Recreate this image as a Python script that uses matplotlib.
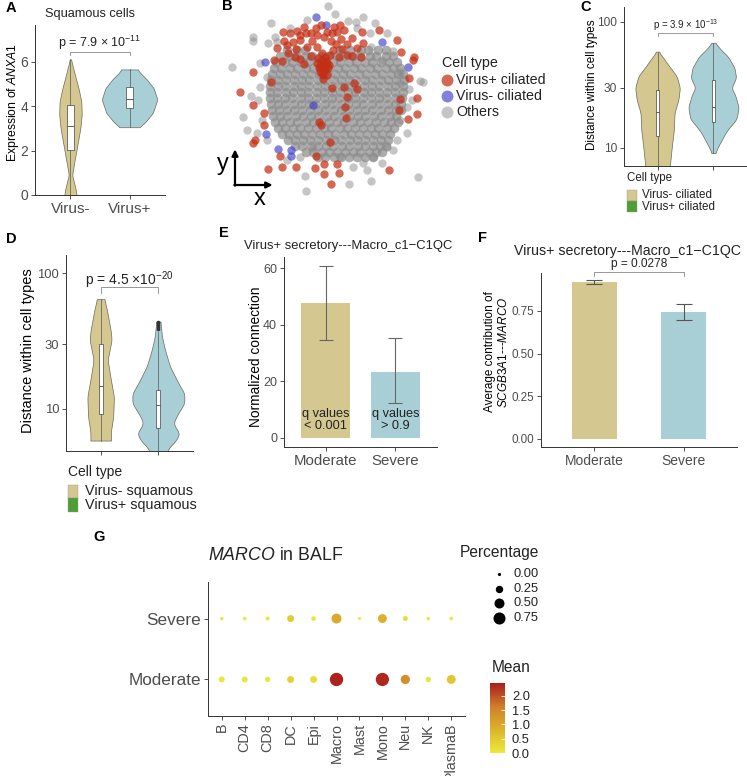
import numpy as np
import matplotlib
matplotlib.use("Agg")
import matplotlib.pyplot as plt
from matplotlib.colors import LinearSegmentedColormap, Normalize
from matplotlib.cm import ScalarMappable
from matplotlib.patches import Rectangle
from matplotlib.ticker import FixedLocator, FixedFormatter, NullLocator

plt.rcParams['font.family'] = ['Liberation Sans', 'DejaVu Sans']
plt.rcParams['mathtext.fontset'] = 'custom'
plt.rcParams['mathtext.rm'] = 'Liberation Sans'
plt.rcParams['mathtext.it'] = 'Liberation Sans:italic'
plt.rcParams['mathtext.bf'] = 'Liberation Sans:bold'

# ======================= DATA =======================
# --- A: ANXA1 expression in squamous cells ---
a_groups = ['Virus-', 'Virus+']
a_neg_levels = [0.0, 0.3, 0.9, 1.5, 2.2, 3.0, 3.6, 4.2, 4.8, 5.3, 5.8, 6.1]
a_neg_density = [0.55, 0.45, 0.15, 0.35, 0.6, 0.88, 1.0, 0.97, 0.72, 0.45, 0.2, 0.05]
a_pos_levels = [3.05, 3.3, 3.7, 4.3, 4.8, 5.2, 5.5, 5.65]
a_pos_density = [0.36, 0.58, 0.84, 1.0, 0.87, 0.62, 0.38, 0.3]
a_box_neg = [0.0, 2.04, 3.09, 4.03, 6.1]      # min, q1, median, q3, max
a_box_pos = [3.05, 3.92, 4.34, 4.87, 5.65]
a_yticks = [0, 2, 4, 6]

# --- B: embedding (arbitrary units) ---
core_rows_y = [150, 168, 186, 204, 222, 240, 258, 276, 294, 312, 330, 348, 366, 384, 402, 420, 438, 456, 472]
core_rows_x = [
    [262, 291, 314, 421, 450, 482, 503, 534, 558],
    [241, 266, 287, 315, 336, 362, 384, 411, 433, 459, 480, 509, 529, 557, 578],
    [229, 254, 275, 302, 324, 350, 371, 398, 420, 447, 469, 495, 517, 544, 566, 591],
    [223, 244, 270, 291, 317, 339, 365, 387, 413, 436, 461, 483, 509, 531, 557, 579, 601],
    [217, 241, 261, 286, 309, 334, 356, 382, 404, 429, 451, 477, 499, 524, 546, 572, 593, 609],
    [214, 235, 259, 281, 306, 328, 353, 375, 401, 422, 448, 469, 495, 517, 542, 564, 589, 611],
    [211, 235, 256, 281, 303, 328, 350, 375, 397, 422, 444, 469, 491, 516, 538, 563, 585, 609],
    [209, 232, 257, 278, 303, 325, 350, 372, 397, 419, 444, 466, 491, 513, 538, 560, 585, 608],
    [211, 231, 256, 277, 302, 324, 349, 371, 396, 418, 443, 465, 490, 512, 537, 559, 584, 605],
    [213, 235, 256, 281, 302, 328, 349, 375, 396, 422, 443, 469, 490, 516, 537, 563, 584, 604],
    [215, 236, 261, 282, 307, 329, 354, 376, 401, 423, 448, 470, 495, 517, 542, 564, 589, 602],
    [219, 241, 262, 287, 308, 334, 355, 381, 402, 428, 449, 475, 496, 522, 543, 569, 589],
    [225, 246, 271, 292, 317, 339, 364, 386, 411, 433, 458, 480, 505, 527, 552, 574, 594],
    [233, 254, 279, 300, 325, 347, 372, 394, 419, 441, 466, 488, 513, 535, 560, 581],
    [245, 266, 291, 312, 337, 359, 384, 406, 431, 453, 478, 500, 525, 547, 570],
    [263, 284, 309, 330, 355, 377, 402, 424, 449, 471, 496, 518, 543, 564],
    [286, 307, 332, 353, 379, 400, 426, 447, 473, 494, 520, 541, 559],
    [319, 340, 365, 387, 412, 434, 459, 481, 506, 528, 547],
    [353, 375, 401, 423, 448, 470, 496, 519],
]
others_x = [385, 405, 212, 488, 468, 443, 525, 160, 160, 97, 205, 578, 513, 660, 670, 628, 152, 130, 140, 172,
            300, 340, 315, 318, 448, 512, 655, 545, 590, 600, 230, 470, 560, 600, 635, 620, 180, 175, 200, 185,
            200, 260, 490, 520, 560, 580, 420, 460, 500, 620, 180, 270, 510, 545, 225, 320, 600]
others_y = [18, 42, 68, 50, 65, 63, 68, 112, 124, 202, 128, 152, 140, 242, 245, 268, 288, 350, 390, 400,
            470, 445, 527, 572, 553, 542, 532, 490, 420, 360, 125, 85, 100, 215, 300, 320, 260, 300, 230, 360,
            420, 480, 490, 470, 440, 450, 470, 500, 510, 400, 190, 85, 100, 180, 110, 60, 250]
vneg_x = [348, 378, 545, 195, 625, 340, 198, 235, 272, 272]
vneg_y = [50, 75, 125, 185, 200, 316, 402, 448, 450, 468]
vpos_x = [222, 245, 232, 252, 270, 248, 292, 312, 333, 347, 362, 380, 402, 412, 432, 300, 288, 322, 336, 352,
          372, 392, 408, 422, 442, 457, 482, 485, 490, 536, 590, 603, 642, 457, 265, 300, 312, 332, 416, 398,
          318, 278, 425, 350, 395, 420, 300, 262, 285, 440, 470,
          365, 370, 375, 360, 380, 370, 360, 385, 350, 375, 365, 390, 355, 382, 368, 378, 362, 372, 388, 356,
          366, 376,
          212, 160, 120, 160, 193, 191, 165, 160, 205, 246, 240, 288, 345, 347, 373, 372, 392, 410, 418, 390,
          357, 363, 437, 436, 440, 432, 463, 472, 397, 567, 625, 652, 650, 628, 600, 598, 640]
vpos_y = [180, 183, 145, 122, 100, 95, 92, 80, 100, 84, 75, 95, 82, 97, 90, 120, 148, 142, 122, 140,
          112, 122, 132, 116, 132, 168, 172, 96, 128, 90, 120, 155, 172, 115, 160, 178, 192, 167, 170, 150,
          100, 125, 148, 105, 100, 75, 105, 135, 170, 165, 145,
          180, 195, 210, 200, 190, 225, 215, 205, 190, 170, 160, 165, 175, 225, 238, 182, 192, 205, 195, 205,
          218, 196,
          245, 215, 275, 315, 340, 376, 420, 430, 506, 500, 468, 500, 503, 467, 492, 523, 553, 492, 518, 427,
          365, 375, 355, 320, 290, 262, 250, 268, 263, 510, 358, 343, 295, 233, 297, 330, 180]
b_labels = ['Virus+ ciliated', 'Virus- ciliated', 'Others']

# --- C: distance within ciliated cells ---
c_neg_levels = [6.5, 7.2, 10.3, 14, 19, 24, 30, 37, 45, 54, 58]
c_neg_density = [0.52, 0.55, 0.64, 0.73, 0.76, 0.93, 1.0, 0.86, 0.5, 0.18, 0.05]
c_pos_levels = [9.1, 10.4, 13.6, 17, 21, 26, 30, 36, 43, 53, 60, 68]
c_pos_density = [0.07, 0.2, 0.52, 0.92, 1.0, 0.87, 0.72, 0.9, 0.84, 0.58, 0.3, 0.07]
c_box_neg = [6.5, 12.4, 19.3, 28.9, 58]
c_box_pos = [9.1, 16.1, 21.1, 34.6, 68]
c_legend = ['Virus- ciliated', 'Virus+ ciliated']

# --- D: distance within squamous cells ---
d_neg_levels = [5.85, 6.8, 8.8, 12.3, 17.3, 23, 32.3, 38.2, 53.7, 64.3]
d_neg_density = [0.77, 0.77, 0.95, 1.0, 0.73, 0.53, 0.83, 0.75, 0.47, 0.28]
d_pos_levels = [4.5, 5.1, 5.9, 6.6, 7.8, 8.8, 11, 13, 15.5, 20.5, 27, 34, 44]
d_pos_density = [0.3, 0.38, 0.69, 0.81, 0.58, 0.69, 1.0, 1.0, 0.77, 0.45, 0.26, 0.14, 0.08]
d_box_neg = [5.85, 9.2, 14.8, 30, 64.3]
d_box_pos = [4.5, 7.2, 10.6, 13.8, 37]
d_pos_outliers = [38.5, 40, 41.5, 43, 44]
d_legend = ['Virus- squamous', 'Virus+ squamous']
log_ticks = [10, 30, 100]

# --- E: normalized connection ---
severity = ['Moderate', 'Severe']
e_values = [47.7, 23.5]
e_low = [34.6, 12.2]
e_high = [60.8, 35.2]
e_qtext = ['q values\n< 0.001', 'q values\n> 0.9']
e_yticks = [0, 20, 40, 60]

# --- F: average contribution ---
f_values = [0.918, 0.742]
f_low = [0.905, 0.697]
f_high = [0.930, 0.788]
f_yticks = [0.0, 0.25, 0.5, 0.75]

# --- G: MARCO dot plot ---
g_cells = ['B', 'CD4', 'CD8', 'DC', 'Epi', 'Macro', 'Mast', 'Mono', 'Neu', 'NK', 'PlasmaB']
g_conditions = ['Moderate', 'Severe']
g_pct_moderate = [0.14, 0.14, 0.11, 0.22, 0.22, 0.93, np.nan, 0.92, 0.42, 0.11, 0.39]
g_pct_severe = [0.01, 0.01, 0.03, 0.22, 0.06, 0.50, 0.0, 0.39, 0.08, 0.01, 0.02]
g_mean_moderate = [0.05, 0.05, 0.05, 0.35, 0.2, 2.4, np.nan, 2.35, 1.35, 0.05, 0.55]
g_mean_severe = [0.05, 0.05, 0.05, 0.45, 0.1, 0.95, 0.02, 0.85, 0.2, 0.05, 0.05]
g_pct_legend = [0.0, 0.25, 0.5, 0.75]
g_mean_ticks = [0.0, 0.5, 1.0, 1.5, 2.0]

# ======================= STYLE / LAYOUT =======================
TAN = '#d4c78f'
BLUE = '#a8cfd5'
GREEN = '#4f9e35'
EDGE = '#6a6a5a'
AX = '#333333'
TXT = '#4d4d4d'

W, H = 747, 776
fig = plt.figure(figsize=(W / 100, H / 100), dpi=100)


def box(x0, y0, x1, y1):
    return [x0 / W, 1 - y1 / H, (x1 - x0) / W, (y1 - y0) / H]


def fp(x, y):
    return (x / W, 1 - y / H)


def lab(x, y, s, size, rot=0, ha='center', va='center', **kw):
    fig.text(x / W, 1 - y / H, s, fontsize=size, rotation=rot, ha=ha, va=va, **kw)


def style(ax, fs=9):
    for s in ['top', 'right']:
        ax.spines[s].set_visible(False)
    for s in ['left', 'bottom']:
        ax.spines[s].set_color(AX)
        ax.spines[s].set_linewidth(0.7)
    ax.tick_params(colors=AX, labelcolor=TXT, length=3, width=0.6, labelsize=fs, pad=2)


def violin(ax, pos, levels, dens, half, color, log=False, k=11):
    lv = np.asarray(levels, float)
    d = np.asarray(dens, float)
    t = np.log10(lv) if log else lv
    tt = np.linspace(t.min(), t.max(), 300)
    dd = np.interp(tt, t, d)
    pad = np.pad(dd, k // 2, mode='edge')
    dd = np.convolve(pad, np.ones(k) / k, mode='valid')
    yy = 10 ** tt if log else tt
    ax.fill_betweenx(yy, pos - half * dd, pos + half * dd, facecolor=color,
                     edgecolor=EDGE, linewidth=0.5, zorder=2)


def boxp(ax, pos, st5, width, fliers=()):
    lo, q1, med, q3, hi = st5
    stats = [dict(med=med, q1=q1, q3=q3, whislo=lo, whishi=hi, fliers=list(fliers))]
    ax.bxp(stats, positions=[pos], widths=width, patch_artist=True, showcaps=False,
           manage_ticks=False, zorder=3,
           boxprops=dict(facecolor='white', edgecolor='#444444', linewidth=0.5),
           medianprops=dict(color='#444444', linewidth=0.6),
           whiskerprops=dict(color='#555555', linewidth=0.5),
           flierprops=dict(marker='o', markersize=2.6, markerfacecolor='#333333',
                           markeredgecolor='none'))


def bracket(ax, x1, x2, y, ydrop, text, ytext, fs):
    ax.plot([x1, x1, x2, x2], [ydrop, y, y, ydrop], color='#888888', lw=0.6, clip_on=False)
    ax.text((x1 + x2) / 2, ytext, text, ha='center', va='center', fontsize=fs, color='#222222')


# ---------------- Panel A ----------------
axA = fig.add_axes(box(35, 25, 165, 195))
style(axA, 10)
violin(axA, 1, a_neg_levels, a_neg_density, 0.19, TAN)
violin(axA, 2, a_pos_levels, a_pos_density, 0.47, BLUE)
boxp(axA, 1, a_box_neg, 0.11)
boxp(axA, 2, a_box_pos, 0.11)
axA.set_xlim(0.4, 2.6)
axA.set_ylim(0, 7.65)
axA.set_yticks(a_yticks)
axA.set_xticks([1, 2])
axA.set_xticklabels(a_groups, fontsize=11)
bracket(axA, 1, 2, 6.44, 6.3, 'p = 7.9 × 10$^{-11}$', 6.85, 9)
lab(90, 14, 'Squamous cells', 9.2, color='#222222')
lab(13, 102, 'Expression of $\\mathit{ANXA1}$', 8.8, rot=90)

# ---------------- Panel B ----------------
axB = fig.add_axes(box(200, 0, 540, 230))
axB.set_xlim(0, 1020)
axB.set_ylim(690, 0)
axB.axis('off')
core_x = np.concatenate([np.asarray(r, float) for r in core_rows_x])
core_y = np.concatenate([np.full(len(r), y, float) for r, y in zip(core_rows_x, core_rows_y)])
PT = 36
axB.scatter(core_x, core_y, s=48, color='#8c8c8c', alpha=0.72, linewidths=0, zorder=1)
axB.scatter(others_x, others_y, s=PT, color='#8c8c8c', alpha=0.5, linewidths=0, zorder=2)
axB.scatter(vneg_x, vneg_y, s=PT, color='#4040c8', alpha=0.65, linewidths=0, zorder=3)
axB.scatter(vpos_x, vpos_y, s=PT, color='#c42e14', alpha=0.72, linewidths=0, zorder=4)
axB.annotate('', xy=(105, 448), xytext=(105, 557),
             arrowprops=dict(arrowstyle='-|>', lw=1.6, color='black', mutation_scale=9,
                             shrinkA=0, shrinkB=0))
axB.annotate('', xy=(218, 555), xytext=(103, 555),
             arrowprops=dict(arrowstyle='-|>', lw=1.6, color='black', mutation_scale=9,
                             shrinkA=0, shrinkB=0))
axB.text(68, 492, 'y', fontsize=17, ha='center', va='center')
axB.text(180, 598, 'x', fontsize=17, ha='center', va='center')
lab(442, 63, 'Cell type', 10.3, ha='left', color='#222222')
b_colors = [('#c42e14', 0.72), ('#4040c8', 0.65), ('#8c8c8c', 0.5)]
for i, (lbl, (c, a)) in enumerate(zip(b_labels, b_colors)):
    yy = 80 + 16 * i
    axB.plot([fp(447, yy)[0]], [fp(447, yy)[1]], 'o', markersize=8.6, color=c, alpha=a,
             markeredgewidth=0, transform=fig.transFigure, clip_on=False)
    lab(456, yy, lbl, 10.3, ha='left', color='#222222')

# ---------------- Panel C ----------------
axC = fig.add_axes(box(624, 7, 747, 166))
style(axC, 8.6)
axC.set_yscale('log')
violin(axC, 1, c_neg_levels, c_neg_density, 0.40, TAN, log=True, k=15)
violin(axC, 2, c_pos_levels, c_pos_density, 0.45, BLUE, log=True, k=15)
boxp(axC, 1, c_box_neg, 0.06)
boxp(axC, 2, c_box_pos, 0.06)
axC.set_xlim(0.4, 2.6)
axC.set_ylim(7.2, 131)
axC.yaxis.set_major_locator(FixedLocator(log_ticks))
axC.yaxis.set_major_formatter(FixedFormatter([str(t) for t in log_ticks]))
axC.yaxis.set_minor_locator(NullLocator())
axC.set_xticks([1, 2])
axC.set_xticklabels([])
bracket(axC, 1, 2, 81.8, 77, 'p = 3.9 × 10$^{-13}$', 95, 7)
lab(592, 85, 'Distance within cell types', 8.4, rot=90)
lab(627, 178, 'Cell type', 8.3, ha='left', color='#222222')
for i, (lbl, c) in enumerate(zip(c_legend, [TAN, GREEN])):
    fig.add_artist(Rectangle(fp(627, 201 + 11 * i), 10 / W, 11 / H, transform=fig.transFigure,
                             facecolor=c, edgecolor='#999999', linewidth=0.3))
    lab(642, 195 + 11.5 * i, lbl, 8.4, ha='left', color='#222222')

# ---------------- Panel D ----------------
axD = fig.add_axes(box(66, 255, 193, 451))
style(axD, 9.4)
axD.set_yscale('log')
violin(axD, 1, d_neg_levels, d_neg_density, 0.23, TAN, log=True, k=15)
violin(axD, 2, d_pos_levels, d_pos_density, 0.45, BLUE, log=True, k=15)
boxp(axD, 1, d_box_neg, 0.07)
boxp(axD, 2, d_box_pos, 0.07, fliers=d_pos_outliers)
axD.set_xlim(0.4, 2.6)
axD.set_ylim(4.9, 136)
axD.yaxis.set_major_locator(FixedLocator(log_ticks))
axD.yaxis.set_major_formatter(FixedFormatter([str(t) for t in log_ticks]))
axD.yaxis.set_minor_locator(NullLocator())
axD.set_xticks([1, 2])
axD.set_xticklabels([])
bracket(axD, 1, 2, 78.9, 72, 'p = 4.5 ×10$^{-20}$', 89, 10)
lab(28, 351, 'Distance within cell types', 10.5, rot=90)
lab(68, 472, 'Cell type', 10, ha='left', color='#222222')
for i, (lbl, c) in enumerate(zip(d_legend, [TAN, GREEN])):
    fig.add_artist(Rectangle(fp(68, 498 + 13.5 * i), 10 / W, 13.5 / H, transform=fig.transFigure,
                             facecolor=c, edgecolor='#999999', linewidth=0.3))
    lab(85, 491 + 14 * i, lbl, 10.4, ha='left', color='#222222')

# ---------------- Panel E ----------------
axE = fig.add_axes(box(284, 257, 437, 447))
style(axE, 9)
ex = np.arange(1, len(severity) + 1)
axE.bar(ex, e_values, width=0.7, color=[TAN, BLUE], zorder=1)
axE.errorbar(ex, e_values,
             yerr=[np.array(e_values) - np.array(e_low), np.array(e_high) - np.array(e_values)],
             fmt='none', ecolor='#666666', elinewidth=0.8, capsize=5, capthick=0.8, zorder=2)
for xi, t in zip(ex, e_qtext):
    axE.text(xi, 6.4, t, ha='center', va='center', fontsize=9.2, color='#222222', linespacing=1.0)
axE.set_xlim(0.4, 2.6)
axE.set_ylim(-3.2, 64)
axE.set_yticks(e_yticks)
axE.set_xticks(ex)
axE.set_xticklabels(severity, fontsize=10.8)
lab(256, 357, 'Normalized connection', 9.9, rot=90)
lab(348, 246, 'Virus+ secretory---Macro_c1\u2212C1QC', 9.4, color='#222222')

# ---------------- Panel F ----------------
axF = fig.add_axes(box(541, 273, 737, 447))
style(axF, 8.4)
axF.bar(ex, f_values, width=0.5, color=[TAN, BLUE], zorder=1)
axF.errorbar(ex, f_values,
             yerr=[np.array(f_values) - np.array(f_low), np.array(f_high) - np.array(f_values)],
             fmt='none', ecolor='#555555', elinewidth=0.8, capsize=6, capthick=0.8, zorder=2)
axF.set_xlim(0.4, 2.6)
axF.set_ylim(-0.047, 0.972)
axF.set_yticks(f_yticks)
axF.set_yticklabels(['%.2f' % v for v in f_yticks])
axF.set_xticks(ex)
axF.set_xticklabels(severity, fontsize=10)
bracket(axF, 1, 2, 0.978, 0.955, 'p = 0.0278', 1.025, 8.6)
lab(497, 352, 'Average contribution of\n$\\mathit{SCGB3A1}$---$\\mathit{MARCO}$', 8.5, rot=90,
    linespacing=1.05)
lab(628, 251, 'Virus+ secretory---Macro_c1\u2212C1QC', 10.2, color='#222222')

# ---------------- Panel G ----------------
cmap = LinearSegmentedColormap.from_list('marco', ['#ece93c', '#dcb42c', '#cf7e28', '#aa1d1d'])
norm = Normalize(0, 2.45)


def gsize(p):
    return 0.5184 * (10 + 180 * np.asarray(p, float))


axG = fig.add_axes(box(208, 582, 465, 716))
style(axG, 10)
gx = np.arange(1, len(g_cells) + 1)
for yi, pct, mean in [(1, g_pct_moderate, g_mean_moderate), (2, g_pct_severe, g_mean_severe)]:
    pct = np.asarray(pct, float)
    mean = np.asarray(mean, float)
    ok = ~np.isnan(pct)
    axG.scatter(gx[ok], np.full(ok.sum(), yi), s=gsize(pct[ok]), c=mean[ok], cmap=cmap, norm=norm,
                linewidths=0, zorder=3)
axG.set_xlim(0.4, len(g_cells) + 0.6)
axG.set_ylim(0.4, 2.6)
axG.set_xticks(gx)
axG.set_xticklabels(g_cells, rotation=90, fontsize=10.4)
axG.set_yticks([1, 2])
axG.set_yticklabels(g_conditions, fontsize=12.3)
lab(208, 556, '$\\mathit{MARCO}$ in BALF', 12.8, ha='left', color='#222222')

lab(460, 552, 'Percentage', 11.2, ha='left', color='#222222')
for i, p in enumerate(g_pct_legend):
    yy = 574 + 14.6 * i
    axG.scatter([fp(499, yy)[0]], [fp(499, yy)[1]], s=gsize(p), color='black', linewidths=0,
                transform=fig.transFigure, clip_on=False)
    lab(513, yy, '%.2f' % p, 9.3, ha='left', color='#222222')
lab(492, 667, 'Mean', 11.2, ha='left', color='#222222')
cax = fig.add_axes(box(490, 683, 505, 753))
cb = fig.colorbar(ScalarMappable(norm=norm, cmap=cmap), cax=cax)
cb.set_ticks(g_mean_ticks)
cb.set_ticklabels(['%.1f' % v for v in g_mean_ticks])
cb.outline.set_visible(False)
cax.tick_params(length=3, color='white', width=0.6, direction='in', labelsize=9.3, pad=5,
                labelcolor='#222222')

# ---------------- Panel letters ----------------
for L, (x, y) in zip('ABCDEFG', [(6, 8), (222, 6), (580, 7), (6, 239), (219, 233), (478, 238), (93, 537)]):
    lab(x, y, L, 10.5, ha='left', weight='bold')

fig.savefig('out.png', dpi=100)
